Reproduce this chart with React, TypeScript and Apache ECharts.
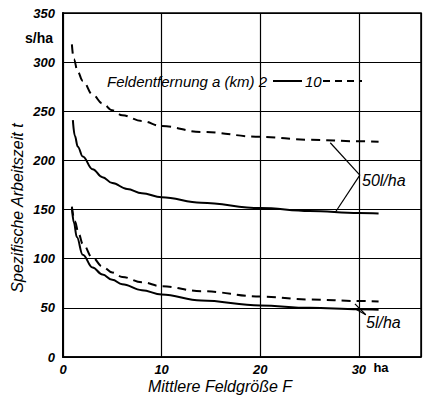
import React, { useEffect, useRef } from "react";
import * as echarts from "echarts";

// Mittlere Feldgröße F (ha) vs. spezifische Arbeitszeit t (s/ha)
const dist10km50l: number[][] = [[0.9,318],[1.1,303],[1.5,290],[2,281],[3,267],[4,258],[5,251],[6,246],[8,240],[10,235],[14,229],[20,224],[25,221],[30,219.5],[32,219]];
const dist2km50l: number[][] = [[1.0,241],[1.2,225],[1.5,214],[2,204],[3,191],[4,183],[5,177],[6.5,171],[8,166.5],[10,162.5],[14,157],[20,151.5],[25,148.5],[30,146.5],[32,146]];
const dist10km5l: number[][] = [[0.9,153],[1.2,138],[1.6,125],[2,115],[3,101],[4,92],[5,86],[6,81.5],[8,76],[10,72],[14,67],[20,61.5],[25,58.5],[30,57],[32,56.5]];
const dist2km5l: number[][] = [[0.9,152],[1.1,137],[1.4,122],[2,104],[3,91],[4,84],[5,78.5],[6,74],[8,68],[10,63.5],[14,57.5],[20,52.5],[25,50],[30,48.5],[32,48]];
const leader50: number[][][] = [[[27.1,218],[30.1,185]],[[30.1,185],[27.6,147]]];
const leader5: number[][][] = [[[29.6,54],[30.7,43]],[[29.6,49],[30.7,43]]];
const xTicks = [0, 10, 20, 30];
const yTicks = [0, 50, 100, 150, 200, 250, 300, 350];

const FONT = "'Liberation Sans', 'DejaVu Sans', sans-serif";

export default function App() {
  const ref = useRef<HTMLDivElement>(null);
  useEffect(() => {
    const chart = echarts.init(ref.current!, null, { renderer: "svg" });
    const lineStyleSolid = { color: "#000", width: 2, type: "solid" as const };
    const lineStyleDash = { color: "#000", width: 2, type: [9, 6] as any };
    const leaderLines = (segs: number[][][]) => ({
      silent: true,
      symbol: ["none", "none"],
      label: { show: false },
      lineStyle: { color: "#000", width: 1.2, type: "solid" },
      data: segs.map((s) => [{ coord: s[0] }, { coord: s[1] }]),
    });
    const mk = (data: number[][], dashed: boolean, leaders?: number[][][]) => ({
      type: "line",
      data,
      smooth: 0.4,
      smoothMonotone: "x",
      showSymbol: false,
      symbol: "none",
      lineStyle: dashed ? lineStyleDash : lineStyleSolid,
      itemStyle: { color: "#000" },
      ...(leaders ? { markLine: leaderLines(leaders) } : {}),
    });
    const txt = (x: number, y: number, text: string, font: string, extra: any = {}) => ({
      type: "text",
      x,
      y,
      ...extra,
      style: { text, font, fill: "#000000", align: extra.align || "left", verticalAlign: "middle" },
    });
    chart.setOption({
      animation: false,
      backgroundColor: "#fff",
      grid: { left: 63, right: 3, top: 13, bottom: 41, show: true, borderColor: "#000", borderWidth: 1.5 },
      xAxis: {
        type: "value",
        min: 0,
        max: 36.3,
        interval: 10,
        axisLine: { show: true, lineStyle: { color: "#000", width: 1.5 } },
        axisTick: { show: false },
        splitLine: { show: true, lineStyle: { color: "#000", width: 1.2 } },
        axisLabel: {
          color: "#000",
          fontFamily: FONT,
          fontStyle: "italic",
          fontWeight: "bold",
          fontSize: 13,
          margin: 6,
          formatter: (v: number) => (xTicks.includes(v) ? String(v) : ""),
        },
      },
      yAxis: {
        type: "value",
        min: 0,
        max: 350,
        interval: 50,
        axisLine: { show: true, lineStyle: { color: "#000", width: 2 } },
        axisTick: { show: false },
        splitLine: { show: true, lineStyle: { color: "#000", width: 1.2 } },
        axisLabel: {
          color: "#000",
          fontFamily: FONT,
          fontStyle: "italic",
          fontWeight: "bold",
          fontSize: 13,
          margin: 8,
          formatter: (v: number) => (yTicks.includes(v) ? String(v) : ""),
        },
      },
      series: [
        mk(dist10km50l, true, leader50),
        mk(dist2km50l, false),
        mk(dist10km5l, true, leader5),
        mk(dist2km5l, false),
      ],
      graphic: [
        { type: "text", x: 17, y: 208, rotation: Math.PI / 2, style: { text: "Spezifische Arbeitszeit t", font: `italic 16px ${FONT}`, fill: "#000000", align: "center", verticalAlign: "middle" } },
        txt(25, 38, "s/ha", `bold 14px ${FONT}`),
        txt(220, 386, "Mittlere Feldgröße F", `italic 16px ${FONT}`, { align: "center" }),
        txt(381, 367, "ha", `bold 13px ${FONT}`, { align: "center" }),
        txt(107, 81, "Feldentfernung a (km) 2", `italic 15px ${FONT}`),
        { type: "line", shape: { x1: 273, y1: 81, x2: 302, y2: 81 }, style: { stroke: "#000", lineWidth: 2 } },
        txt(305, 81, "10", `italic 15px ${FONT}`),
        { type: "line", shape: { x1: 323, y1: 81, x2: 362, y2: 81 }, style: { stroke: "#000", lineWidth: 2, lineDash: [7, 5] } },
        txt(362, 180, "50l/ha", `italic 16px ${FONT}`),
        txt(366, 322, "5l/ha", `italic 16px ${FONT}`),
      ],
    });
    return () => chart.dispose();
  }, []);
  return <div ref={ref} style={{ width: 424, height: 398, position: "fixed", left: 0, top: 0 }} />;
}
